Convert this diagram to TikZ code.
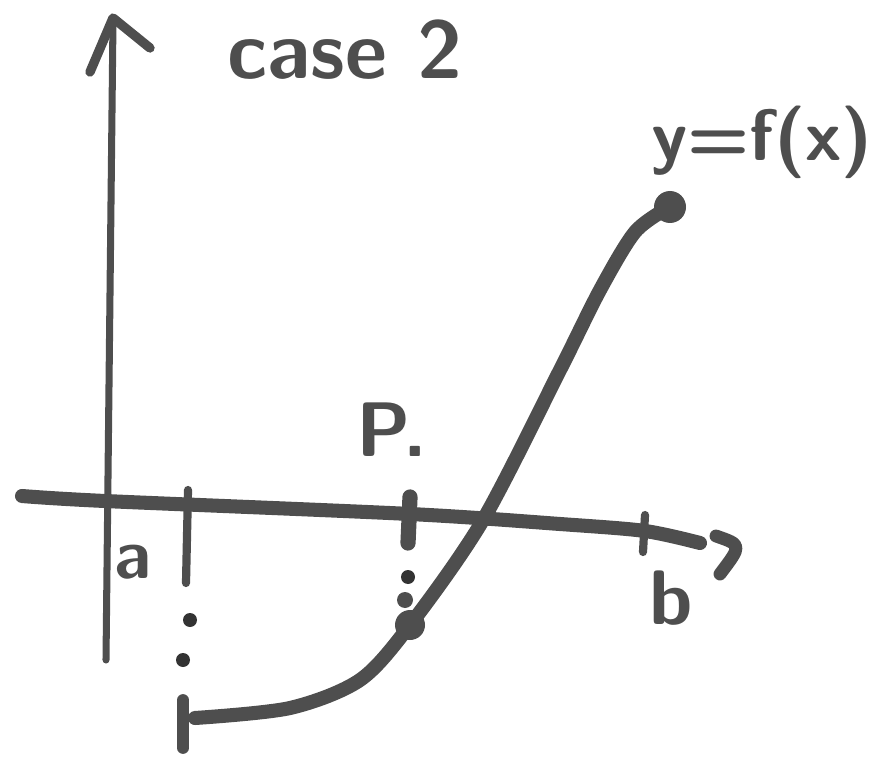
\documentclass[tikz,border=0pt]{standalone}
\usepackage{tikz}
\usetikzlibrary{arrows.meta,calc}
\definecolor{ink}{RGB}{78,78,78}

\begin{document}
\begin{tikzpicture}[x=0.03cm,y=-0.03cm,line cap=round,line join=round,
  lbl/.style={text=ink,font=\sffamily\bfseries\fontsize{60}{60}\selectfont}]
\useasboundingbox (0,0) rectangle (886,760);
\coordinate (A) at (188,490);
\coordinate (P) at (410,625);
\coordinate (B) at (645,515);
% axes
\draw[ink,line width=6pt] (106,660)--(113,20);
\draw[ink,line width=8pt] (90,72)--(113,18)--(150,48);
\draw[ink,line width=12pt] plot[smooth] coordinates
  {(22,496) (105,501) (410,514) (560,524) (645,531) (700,543)};
\draw[ink,line width=11pt] (716,536) .. controls (742,545) .. (720,574);
% ticks
\draw[ink,line width=7pt] (A)--(186,583);
\draw[ink,line width=13pt] (410,497)--(408,543);
\draw[ink,line width=7pt] (B)--(643,552);
% dotted drops
\fill[black!80] (190,620) circle(7) (183,660) circle(7) (408,577) circle(7);
\fill[ink] (405,600) circle(8);
% graph
\draw[ink,line width=12pt] plot[smooth] coordinates
  {(195,718) (290,708) (360,680) (P) (483,520) (560,370) (600,290) (635,232) (668,208)};
\fill[ink] (P) circle(15) (670,207) circle(16);
\draw[ink,line width=10pt] (183,700)--(183,748);
% labels
\node[lbl,font=\sffamily\bfseries\fontsize{70}{70}\selectfont] (case) at (345,50) {case 2};
\node[lbl,font=\sffamily\bfseries\fontsize{62}{62}\selectfont] (fx) at (762,142) {y=f(x)};
\node[lbl,font=\sffamily\bfseries\fontsize{66}{66}\selectfont] (p0) at (392,430) {P.};
\node[lbl] (a) at (133,562) {a};
\node[lbl,font=\sffamily\bfseries\fontsize{66}{66}\selectfont] (b) at (671,598) {b};
\end{tikzpicture}
\end{document}
